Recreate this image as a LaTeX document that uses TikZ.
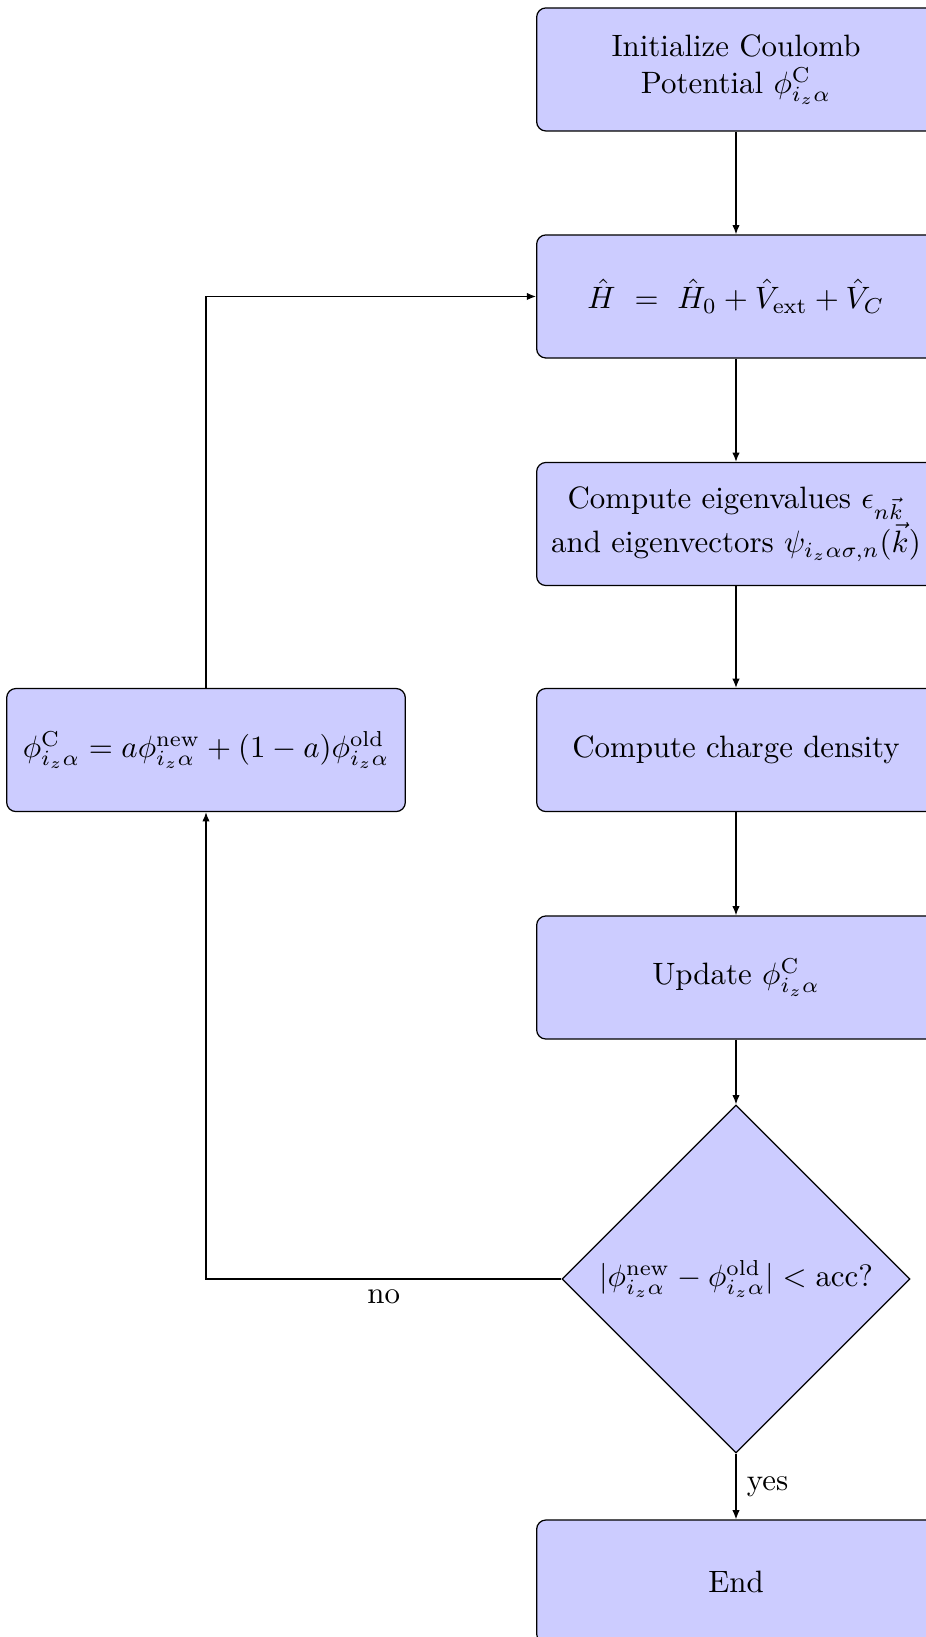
\documentclass[tikz,border=0pt]{standalone}
\usepackage{amsmath}
\usepackage{tikz}
\usepackage{xcolor}
\usetikzlibrary{arrows.meta,shapes.geometric}
\definecolor{flowfill}{HTML}{CCCCFF}

\begin{document}
\begin{tikzpicture}[
  block/.style={rectangle,draw,fill=flowfill,rounded corners=3pt,
    text width=4.3cm,align=flush center,minimum height=1.4cm},
  decision/.style={diamond,draw,fill=flowfill,aspect=1,
    minimum size=3.96cm,inner sep=0pt},
  flow/.style={-{Latex[length=3pt,width=2.4pt]}}
]
\useasboundingbox (0,0) rectangle (10.532,-18.619);

% Self-consistency column
\node[block] (init) at (8.371,-0.790) {Initialize Coulomb\\ Potential $\phi^{\mathrm{C}}_{i_z\alpha}$};
\node[block] (ham) at (8.371,-3.372) {$\hat{H}\ =\ \hat{H}_0+\hat{V}_{\mathrm{ext}}+\hat{V}_C$};
\node[block] (eig) at (8.371,-5.960) {Compute eigenvalues $\epsilon_{n\vec{k}}$\\ and eigenvectors $\psi_{i_z\alpha\sigma,n}(\vec{k})$};
\node[block] (dens) at (8.371,-8.531) {Compute charge density};
\node[block] (upd) at (8.371,-11.118) {Update $\phi^{\mathrm{C}}_{i_z\alpha}$};
\node[decision] (conv) at (8.371,-14.547) {$|\phi^{\mathrm{new}}_{i_z\alpha}-\phi^{\mathrm{old}}_{i_z\alpha}|<\mathrm{acc}$?};
\node[block] (fin) at (8.371,-17.988) {End};

% Mixing step
\node[block] (mix) at (2.343,-8.531) {$\phi^{\mathrm{C}}_{i_z\alpha}=a\phi^{\mathrm{new}}_{i_z\alpha}+(1-a)\phi^{\mathrm{old}}_{i_z\alpha}$};

% Connectors
\draw[flow] (init) -- (ham);
\draw[flow] (ham) -- (eig);
\draw[flow] (eig) -- (dens);
\draw[flow] (dens) -- (upd);
\draw[flow] (upd) -- (conv);
\draw[flow] (conv) -- node[right] {yes} (fin);
\draw[flow] (conv.west) -| node[below,pos=0.25] {no} (mix.south);
\draw[flow] (mix.north) |- (ham.west);
\end{tikzpicture}
\end{document}
